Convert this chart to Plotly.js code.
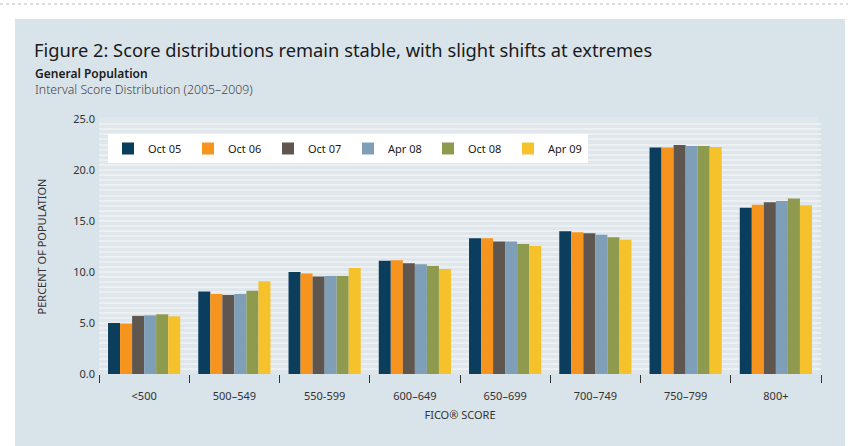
<!DOCTYPE html>
<html>
<head>
<meta charset="utf-8">
<script src="https://cdn.plot.ly/plotly-3.0.1.min.js"></script>
<style>
  html, body { margin: 0; padding: 0; background: #ffffff; }
  #chart { width: 862px; height: 446px; }
</style>
</head>
<body>
<div id="chart"></div>
<script>
// ---- Data ----
const categories = ['<500', '500–549', '550-599', '600–649', '650–699', '700–749', '750–799', '800+'];
const seriesNames = ['Oct 05', 'Oct 06', 'Oct 07', 'Apr 08', 'Oct 08', 'Apr 09'];
const oct05 = [5.0, 8.1, 10.0, 11.1, 13.3, 14.0, 22.2, 16.3];
const oct06 = [4.95, 7.85, 9.85, 11.15, 13.3, 13.9, 22.2, 16.6];
const oct07 = [5.7, 7.75, 9.55, 10.85, 13.0, 13.8, 22.45, 16.85];
const apr08 = [5.75, 7.85, 9.6, 10.75, 13.0, 13.65, 22.35, 16.95];
const oct08 = [5.85, 8.15, 9.6, 10.6, 12.75, 13.4, 22.35, 17.2];
const apr09 = [5.65, 9.1, 10.4, 10.3, 12.55, 13.15, 22.25, 16.55];
const yTickVals = [0, 5, 10, 15, 20, 25];
const yTickText = ['0.0', '5.0', '10.0', '15.0', '20.0', '25.0'];

const seriesValues = [oct05, oct06, oct07, apr08, oct08, apr09];
const colors = ['#0b3d5d', '#f7941e', '#5e564f', '#7f9eb8', '#8e9a4e', '#f6c22c'];

const esc = s => s.replace(/&/g, '&amp;').replace(/</g, '&lt;').replace(/>/g, '&gt;');

const font = 'Noto Sans, Open Sans, sans-serif';

const traces = seriesNames.map((name, i) => ({
  type: 'bar',
  name: name,
  x: categories,
  y: seriesValues[i],
  marker: { color: colors[i], line: { width: 0 } },
  hoverinfo: 'x+y+name'
}));

const W = 862, H = 446;
const mL = 99, mR = 41, mT = 119, mB = 72;
const pw = W - mL - mR, ph = H - mT - mB;
const px = v => (v - mL) / pw;           // pixel x -> paper x
const py = v => (H - mB - v) / ph;       // pixel y -> paper y

const layout = {
  width: W, height: H,
  margin: { l: mL, r: mR, t: mT, b: mB, pad: 0 },
  paper_bgcolor: '#ffffff',
  plot_bgcolor: 'rgba(0,0,0,0)',
  barmode: 'group',
  bargap: 0.2,
  bargroupgap: 0,
  font: { family: font, color: '#333333', size: 11 },
  title: {
    text: 'Figure 2: Score distributions remain stable, with slight shifts at extremes',
    font: { family: font, size: 18.3, color: '#1a1a1a' },
    xref: 'container', yref: 'container',
    x: 34 / W, xanchor: 'left',
    y: 1 - 51 / H, yanchor: 'middle'
  },
  annotations: [
    { text: 'General Population', xref: 'paper', yref: 'paper', x: px(33), y: py(73),
      xanchor: 'left', yanchor: 'middle', showarrow: false,
      font: { family: font, size: 12, color: '#1a1a1a', weight: 600 } },
    { text: 'Interval Score Distribution (2005–2009)', xref: 'paper', yref: 'paper', x: px(33), y: py(90),
      xanchor: 'left', yanchor: 'middle', showarrow: false,
      font: { family: font, size: 12.3, color: '#444444', weight: 300 } }
  ],
  shapes: [
    // outer panel
    { type: 'rect', xref: 'paper', yref: 'paper', layer: 'below',
      x0: px(15), x1: px(845), y0: py(447), y1: py(19),
      fillcolor: '#d9e3ea', line: { width: 0 } },
    // plot area
    { type: 'rect', xref: 'paper', yref: 'paper', layer: 'below',
      x0: 0, x1: px(818), y0: 0, y1: py(117),
      fillcolor: '#dfe7ed', line: { width: 0 } },
    // dotted top rule
    { type: 'line', xref: 'paper', yref: 'paper',
      x0: px(0), x1: px(848), y0: py(4), y1: py(4),
      line: { color: '#bbbbbb', width: 1, dash: 'dot' } }
  ],
  xaxis: {
    type: 'category',
    tickvals: categories,
    ticktext: categories.map(esc),
    tickson: 'boundaries',
    ticks: 'outside', ticklen: 8, tickwidth: 1, tickcolor: '#333333',
    ticklabelstandoff: 14,
    showgrid: false, zeroline: false, showline: false,
    tickfont: { family: font, size: 11, color: '#333333' },
    title: { text: 'FICO® SCORE', font: { family: font, size: 11, color: '#333333' }, standoff: 9 },
    fixedrange: true
  },
  yaxis: {
    range: [0, 25],
    tickvals: yTickVals,
    ticktext: yTickText,
    ticks: '', showline: false, zeroline: false,
    showgrid: true, gridcolor: '#ecf0f3', gridwidth: 2,
    minor: { dtick: 0.5, showgrid: true, gridcolor: '#ecf0f3', gridwidth: 2, ticks: '' },
    tickfont: { family: font, size: 11, color: '#333333' },
    ticklabelstandoff: 3,
    title: { text: 'PERCENT OF POPULATION', font: { family: font, size: 11, color: '#333333' }, standoff: 24 },
    fixedrange: true
  },
  legend: {
    orientation: 'h',
    x: px(108), y: py(134), xanchor: 'left', yanchor: 'top',
    bgcolor: '#ffffff', borderwidth: 0,
    font: { family: font, size: 11, color: '#1a1a1a' },
    itemwidth: 30,
    entrywidth: 35, entrywidthmode: 'pixels',
    traceorder: 'normal',
    itemclick: false, itemdoubleclick: false
  },
  showlegend: true
};

Plotly.newPlot('chart', traces, layout, { displayModeBar: false, staticPlot: true });
</script>
</body>
</html>
